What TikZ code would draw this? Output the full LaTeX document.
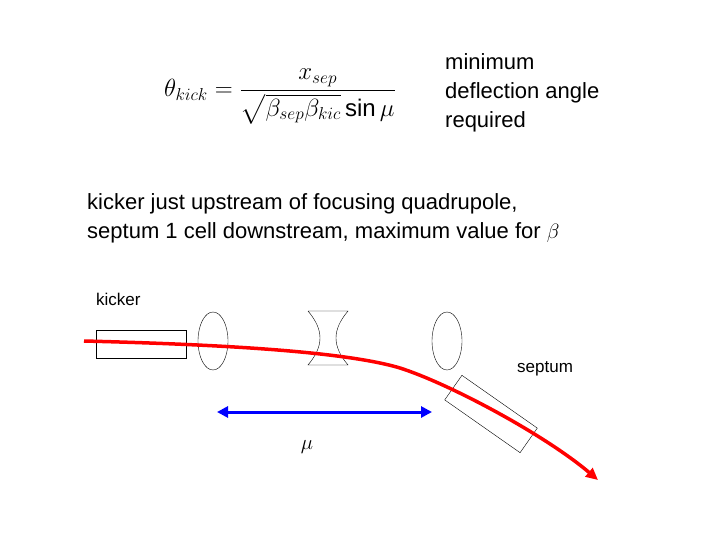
\documentclass[tikz,border=0pt]{standalone}
\usepackage{amsmath}
\usepackage{fontspec}
\setmainfont{Liberation Sans}
\usetikzlibrary{shapes.geometric,arrows.meta}
\begin{document}
\begin{tikzpicture}[x=1pt,y=-1pt,
  txt/.style={font=\fontsize{22}{29}\selectfont,align=left,inner sep=0pt},
  small/.style={font=\fontsize{17}{20}\selectfont,inner sep=0pt},
  lens/.style={draw,ellipse,minimum width=30pt,minimum height=58pt,inner sep=0pt}]
\useasboundingbox (0,0) rectangle (720,540);
\node (f) at (280,97) {\fontsize{24}{29}\selectfont $\theta_{kick}=\dfrac{x_{sep}}{\sqrt{\beta_{sep}\beta_{kic}}\,\mathrm{sin}\,\mu}$};
\node[txt,anchor=west] (t1) at (445,93) {minimum\\deflection angle\\required};
\node[txt,anchor=west] (t2) at (87,218) {kicker just upstream of focusing quadrupole,\\septum 1 cell downstream, maximum value for $\beta$};
\node[small,anchor=west] (kl) at (96,299) {kicker};
\node[draw,minimum width=90pt,minimum height=28pt,inner sep=0pt] (k) at (141,344) {};
\node[lens] (l1) at (213,341) {};
\node[lens] (l2) at (447,341) {};
\draw (308,311) -- (348,311) .. controls (332,330) and (332,346) .. (348,365) -- (308,365) .. controls (324,346) and (324,330) .. (308,311);
\node[small,anchor=west] (sl) at (517,369) {septum};
\node[draw,minimum width=92pt,minimum height=30pt,inner sep=0pt,rotate=-35] (s) at (491,414) {};
\draw[red,line width=3.5pt,-{Triangle[length=12pt,width=11pt]}] (84,341) .. controls (200,344) and (340,350) .. (400,368) .. controls (450,384) and (545,435) .. (598,480);
\coordinate (a1) at (217,412); \coordinate (a2) at (432,412);
\draw[blue,line width=3pt,{Triangle[length=11pt,width=11pt]}-{Triangle[length=11pt,width=11pt]}] (a1) -- (a2);
\node[txt] (mu) at (307,447) {$\mu$};
\end{tikzpicture}
\end{document}
